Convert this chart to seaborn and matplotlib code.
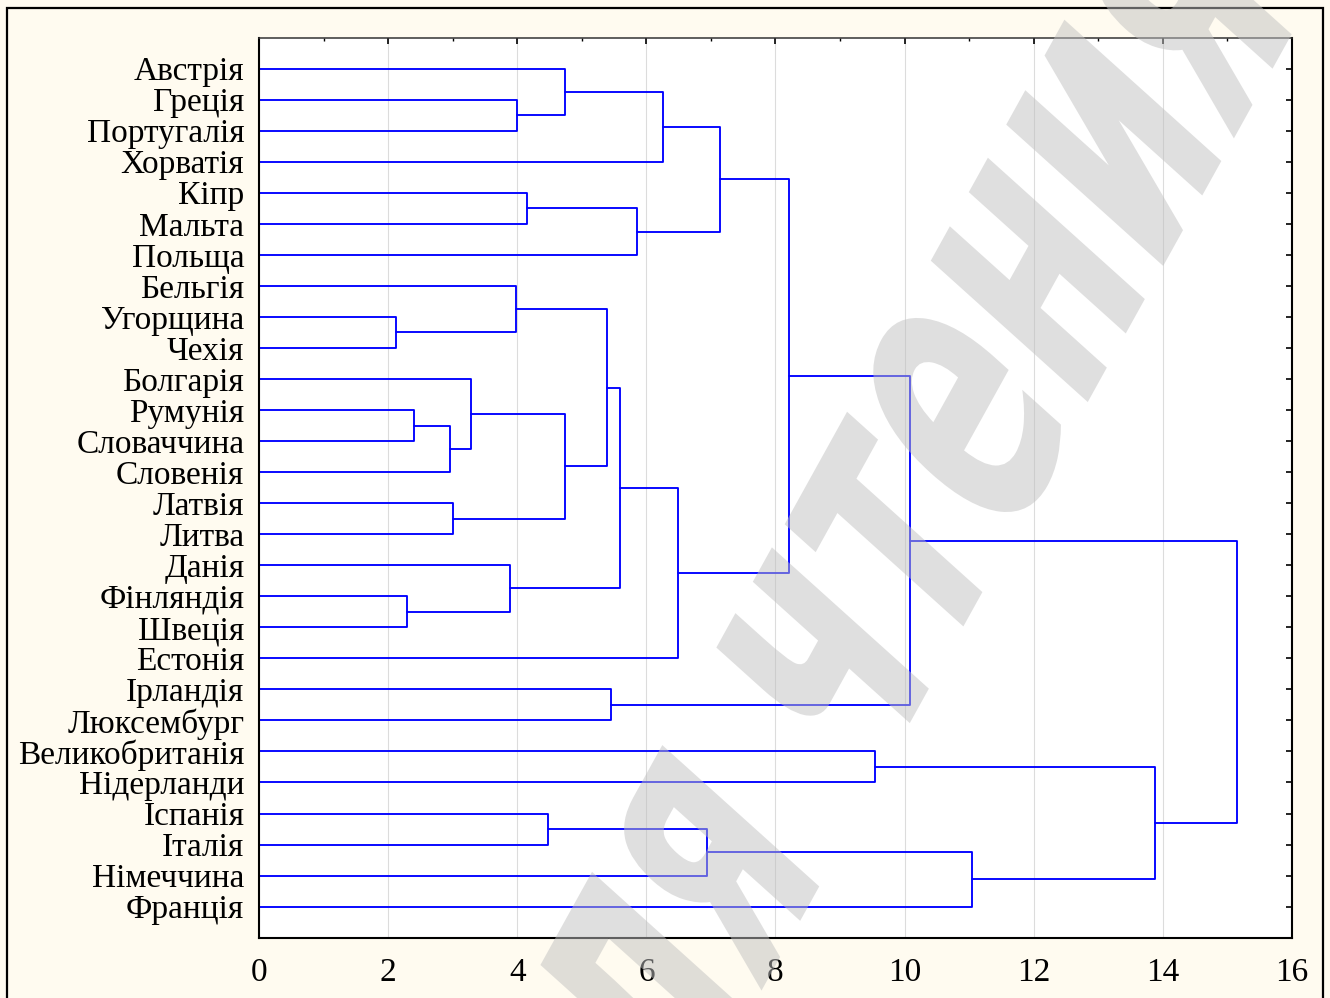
import numpy as np
import pandas as pd
import seaborn as sns
import matplotlib
matplotlib.use("Agg")
import matplotlib.pyplot as plt
from matplotlib.patches import Rectangle
from matplotlib.ticker import MultipleLocator
from matplotlib.patheffects import AbstractPathEffect
from matplotlib.transforms import Affine2D

# --- DATA ---
# leaves in display order (top -> bottom)
countries = ["Австрія", "Греція", "Португалія", "Хорватія", "Кіпр", "Мальта",
             "Польща", "Бельгія", "Угорщина", "Чехія", "Болгарія", "Румунія",
             "Словаччина", "Словенія", "Латвія", "Литва", "Данія", "Фінляндія",
             "Швеція", "Естонія", "Ірландія", "Люксембург", "Великобританія",
             "Нідерланди", "Іспанія", "Італія", "Німеччина", "Франція"]

# linkage: 0..27 = leaves, 28.. = clusters made by the merges below (in order)
left_child = [1, 0, 29, 4, 31, 30, 8, 7, 11, 36, 10, 14, 38, 35,
              17, 16, 41, 44, 33, 20, 46, 22, 24, 50, 51, 49, 48]
right_child = [2, 28, 3, 5, 6, 32, 9, 34, 12, 13, 37, 15, 39, 40,
               18, 42, 43, 19, 45, 21, 47, 23, 25, 26, 27, 52, 53]
link_dist = [4.00, 4.74, 6.26, 4.15, 5.85, 7.14, 2.12, 3.98, 2.40, 2.96,
             3.28, 3.00, 4.74, 5.39, 2.29, 3.89, 5.59, 6.49, 8.21, 5.45,
             10.08, 9.54, 4.48, 6.94, 11.04, 13.88, 15.16]

x_ticks = list(range(0, 17, 2))
watermark = "для чтения"


# tall, narrow, slightly skewed watermark lettering (glyph frame transform)
class Stretch(AbstractPathEffect):
    def __init__(self, sx=1.0, sy=1.0, skew=0.0):
        super().__init__()
        self.sx, self.sy, self.skew = sx, sy, skew

    def draw_path(self, renderer, gc, tpath, affine, rgbFace=None):
        local = Affine2D().scale(self.sx, self.sy).skew_deg(0, self.skew)
        renderer.draw_path(gc, tpath, local + affine, rgbFace)


# --- build dendrogram segments ---
n = len(countries)
pos = [float(i) for i in range(n)]
hgt = [0.0] * n
rows = []
for k, (a, b, d) in enumerate(zip(left_child, right_child, link_dist)):
    pts = [(hgt[a], pos[a]), (d, pos[a]), (d, pos[b]), (hgt[b], pos[b])]
    for j, (xx, yy) in enumerate(pts):
        rows.append({"link": k, "step": j, "dist": xx, "leaf_pos": yy})
    pos.append((pos[a] + pos[b]) / 2)
    hgt.append(d)
seg = pd.DataFrame(rows)

# --- PLOT ---
sns.set_theme(style="white")
plt.rcParams['font.family'] = ['Liberation Serif', 'DejaVu Serif']

fig = plt.figure(figsize=(13.3, 9.98), dpi=100, facecolor='#FFFBF0')
ax = fig.add_axes([0.19496, 0.06042, 0.77624, 0.90200])
ax.set_facecolor('white')

# outer frame
fig.patches.append(Rectangle((7 / 1330, -0.02), 1316 / 1330, 1.012,
                             transform=fig.transFigure, fill=False,
                             ec='black', lw=1.6, zorder=0))

sns.lineplot(data=seg, x="dist", y="leaf_pos", units="link", estimator=None,
             sort=False, color='#0000FF', lw=1.35, ax=ax, legend=False)

ax.set_xlim(0, 16)
ax.set_ylim(n, -1)
ax.set_xticks(x_ticks)
ax.set_xticklabels([str(t) for t in x_ticks])
ax.xaxis.set_minor_locator(MultipleLocator(1))
ax.set_yticks(range(n))
ax.set_yticklabels(countries)
ax.set_xlabel("")
ax.set_ylabel("")

ax.tick_params(axis='both', which='both', direction='in', top=True, right=True,
               color='black', labelcolor='black')
ax.tick_params(axis='x', which='major', length=4, width=1.2, labelsize=24, pad=14.5)
ax.tick_params(axis='x', which='minor', length=2.5, width=1.0)
ax.tick_params(axis='y', which='major', length=4, width=1.2, labelsize=24, pad=10.8)

ax.grid(axis='x', which='major', color='#DCDCDC', lw=0.8)
ax.grid(axis='y', visible=False)
ax.set_axisbelow(True)
for s in ax.spines.values():
    s.set_visible(True)
    s.set_color('black')
    s.set_linewidth(1.5)
ax.spines['top'].set_linewidth(1.1)
ax.spines['top'].set_color('#333333')

# watermark (its start lies below the picture, as in the original)
fig.text(590 / 1330, 1 - 1300 / 998, watermark, rotation=48, rotation_mode='anchor',
         ha='left', va='baseline', fontsize=158, fontweight='bold',
         family=['DejaVu Sans'], color='#C0C0C0',
         alpha=0.5, zorder=10, path_effects=[Stretch(1.0, 1.76, 13)])

plt.savefig("out.png", dpi=100, facecolor=fig.get_facecolor())
